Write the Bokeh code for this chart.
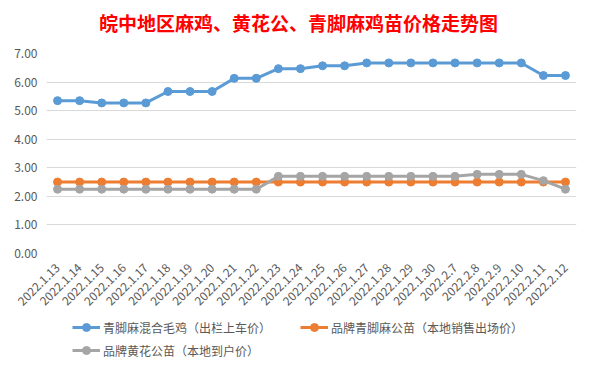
import math
from bokeh.plotting import figure
from bokeh.layouts import column
from bokeh.core.properties import value
from bokeh.models import FactorRange, Range1d, Legend, LegendItem, FixedTicker, NumeralTickFormatter
from bokeh.embed import file_html
from bokeh.resources import INLINE

categories = ["2022.1.13", "2022.1.14", "2022.1.15", "2022.1.16", "2022.1.17", "2022.1.18",
              "2022.1.19", "2022.1.20", "2022.1.21", "2022.1.22", "2022.1.23", "2022.1.24",
              "2022.1.25", "2022.1.26", "2022.1.27", "2022.1.28", "2022.1.29", "2022.1.30",
              "2022.2.7", "2022.2.8", "2022.2.9", "2022.2.10", "2022.2.11", "2022.2.12"]

blue_name = "青脚麻混合毛鸡（出栏上车价）"
blue_vals = [5.35, 5.35, 5.27, 5.27, 5.27, 5.67, 5.67, 5.67, 6.13, 6.13, 6.47, 6.47,
             6.57, 6.57, 6.67, 6.67, 6.67, 6.67, 6.67, 6.67, 6.67, 6.67, 6.23, 6.23]

orange_name = "品牌青脚麻公苗（本地销售出场价）"
orange_vals = [2.5] * 24

gray_name = "品牌黄花公苗（本地到户价）"
gray_vals = [2.25, 2.25, 2.25, 2.25, 2.25, 2.25, 2.25, 2.25, 2.25, 2.25, 2.7, 2.7,
             2.7, 2.7, 2.7, 2.7, 2.7, 2.7, 2.7, 2.77, 2.77, 2.77, 2.55, 2.25]

title_text = "皖中地区麻鸡、黄花公、青脚麻鸡苗价格走势图"
y_ticks = [0, 1, 2, 3, 4, 5, 6, 7]

FONT = "Noto Sans CJK SC"
TXT = "#595959"
BORDERS = dict(min_border_left=46, min_border_right=10)

# title panel
t = figure(width=586, height=44, output_backend="svg", toolbar_location=None,
           x_axis_location=None, y_axis_location=None,
           x_range=Range1d(0, 530), y_range=Range1d(0, 44),
           min_border_top=0, min_border_bottom=0, **BORDERS)
t.outline_line_color = None
t.grid.grid_line_color = None
t.text(x=[252], y=[22], text=[title_text], text_font=value(FONT), text_font_size="19px",
       text_color="#FF0000", text_font_style="bold", text_align="center",
       text_baseline="middle")

p = figure(width=586, height=268, output_backend="svg", toolbar_location=None,
           x_range=FactorRange(*categories, range_padding=0),
           y_range=Range1d(0, 7),
           min_border_top=9, min_border_bottom=51, **BORDERS)

p.outline_line_color = None
p.background_fill_color = "white"
p.border_fill_color = "white"

p.xgrid.grid_line_color = None
p.ygrid.grid_line_color = "#D9D9D9"
p.ygrid.grid_line_width = 1

p.yaxis.ticker = FixedTicker(ticks=y_ticks)
p.yaxis.formatter = NumeralTickFormatter(format="0.00")
for ax in (p.xaxis[0], p.yaxis[0]):
    ax.axis_line_color = None
    ax.major_tick_line_color = None
    ax.minor_tick_line_color = None
    ax.major_label_text_font = FONT
    ax.major_label_text_font_size = "12px"
    ax.major_label_text_color = TXT
p.yaxis.major_label_standoff = 3
p.xaxis.major_label_standoff = 6
p.xaxis.major_label_orientation = math.pi / 4

# legend panel
lg = figure(width=586, height=51, output_backend="svg", toolbar_location=None,
            x_axis_location=None, y_axis_location=None,
            x_range=Range1d(0, 1), y_range=Range1d(0, 1),
            min_border_top=0, min_border_bottom=0, **BORDERS)
lg.outline_line_color = None
lg.grid.grid_line_color = None
lg.border_fill_color = "white"

series = [(blue_vals, "#5B9BD5", blue_name),
          (orange_vals, "#ED7D31", orange_name),
          (gray_vals, "#A5A5A5", gray_name)]
items = []
for vals, col, name in series:
    p.line(categories, vals, line_color=col, line_width=3)
    p.scatter(categories, vals, size=8, fill_color=col, line_color=col)
    dl = lg.line([-10, -9], [-10, -10], line_color=col, line_width=3)
    ds = lg.scatter([-10], [-10], size=8, fill_color=col, line_color=col)
    items.append(LegendItem(label=name, renderers=[dl, ds]))

common = dict(label_text_font=FONT, label_text_font_size="12px", label_text_color=TXT,
              border_line_color=None, background_fill_alpha=0, glyph_width=28, glyph_height=20,
              label_standoff=3, spacing=3, padding=0, margin=0)
leg1 = Legend(items=[items[0], items[1]], orientation="horizontal", label_width=194,
              location=(26, 26), **common)
leg2 = Legend(items=[items[2]], orientation="horizontal", location=(26, 3), **common)
lg.add_layout(leg1, "center")
lg.add_layout(leg2, "center")

layout = column(t, p, lg, spacing=0)
open("out.html", "w").write(file_html(layout, INLINE))
